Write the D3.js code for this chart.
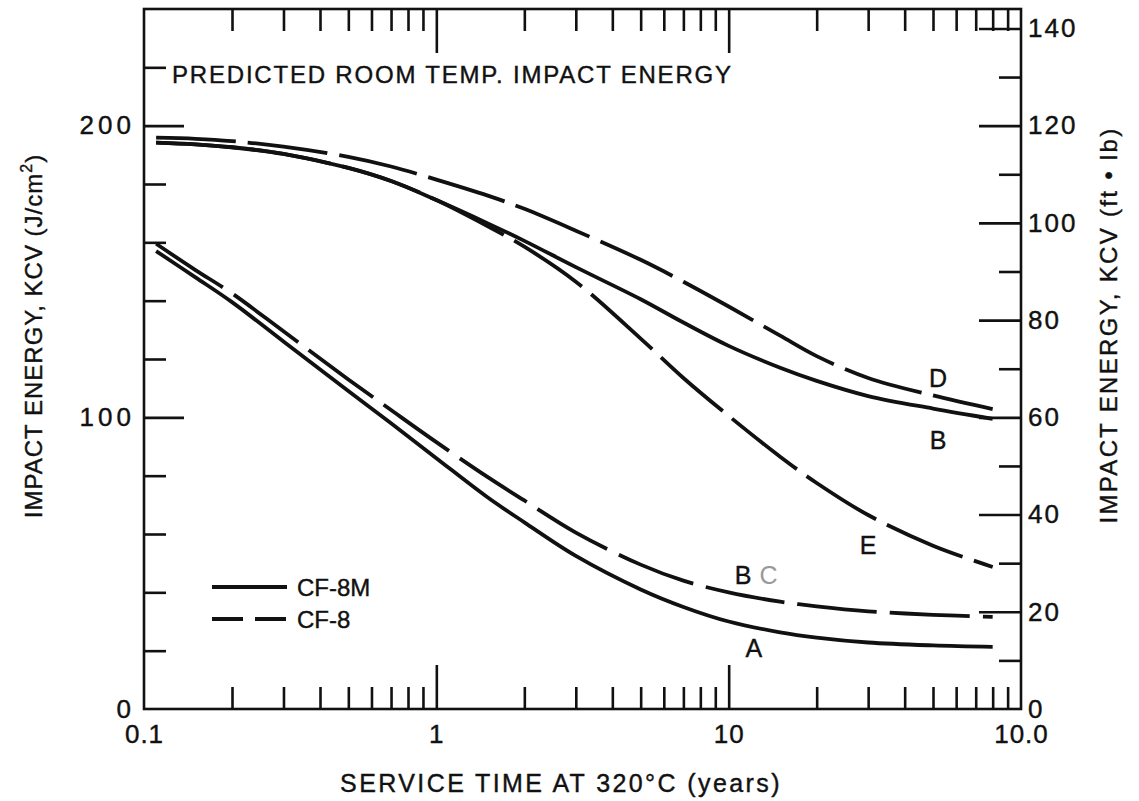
<!DOCTYPE html>
<html>
<head>
<meta charset="utf-8">
<script src="https://cdn.jsdelivr.net/npm/d3@7"></script>
<style>
body {
  margin: 0;
  background-color: white;
}
text {
  font-family: "Liberation Sans", Arial, sans-serif;
  fill: #111;
  stroke: #111;
  stroke-width: 0.4px;
}
</style>
</head>
<body>
<svg id="chart"></svg>
<script>
// service time (years) where the curves were read
var years = [0.11, 0.15, 0.2, 0.3, 0.5, 0.7, 1, 1.5, 2, 3, 5, 7, 10, 15, 20, 30, 50, 80];
// impact energy, J/cm2
var curveD = [195.9, 195.5, 194.7, 192.8, 189.3, 186, 181.5, 176, 171.5, 164, 154, 146.5, 138, 128, 121, 113.5, 107.5, 102.8];
var curveB = [194.2, 193.6, 192.6, 190.3, 185.5, 181, 174.5, 166.5, 160.5, 151.5, 140.5, 132.5, 124.5, 117, 112.5, 107.3, 103, 99.5];
var curveE = [194.2, 193.6, 192.6, 190.3, 185.5, 181, 174.5, 165.5, 158.5, 146.5, 127, 113.5, 100.5, 86.5, 77.5, 66.5, 56, 48.7];
var curveC = [159.5, 150.5, 142.5, 129.5, 113, 102.5, 91.5, 79.5, 71.5, 60.5, 49.5, 44, 40, 36.8, 35.2, 33.5, 32.3, 31.6];
var curveA = [157, 148, 139.5, 126, 109, 98, 86, 72.5, 64, 52.5, 41, 35, 30, 26.3, 24.5, 22.8, 21.8, 21.3];

var xMajor = [1, 10];
var xMinor = [0.2, 0.3, 0.4, 0.5, 0.6, 0.7, 0.8, 0.9, 2, 3, 4, 5, 6, 7, 8, 9, 20, 30, 40, 50, 60, 70, 80, 90];
var xLabels = [[0.1, "0.1"], [1, "1"], [10, "10"], [100, "10.0"]];
var jMajor = [100, 200];
var jMinor = [20, 40, 60, 80, 120, 140, 160, 180, 220];
var jLabels = [0, 100, 200];
var ftMajor = [20, 40, 60, 80, 100, 120, 140];
var ftMinor = [10, 30, 50, 70, 90, 110, 130];
var ftLabels = [0, 20, 40, 60, 80, 100, 120, 140];

// curve letters, placed in data units
var curveLetters = [["D", 52, 113.5], ["B", 52, 92.3], ["E", 30, 56.3], ["B", 11.2, 46], ["C", 13.7, 46], ["A", 12.2, 21]];

var series = [
  {v: curveD, dash: "80,12"},
  {v: curveB, dash: null},
  {v: curveE, dash: "82,12"},
  {v: curveC, dash: "80,13"},
  {v: curveA, dash: null}
];

const width = 1139;
const height = 801;
var svg = d3.select("#chart").attr("width", width).attr("height", height);

var pLeft = 144, pRight = 1021, pTop = 9, pBottom = 709;
var x = d3.scaleLog().domain([0.1, 100]).range([pLeft, pRight]);
var y = d3.scaleLinear().domain([0, 240]).range([pBottom, pTop]);
var yft = d3.scaleLinear().domain([0, 144]).range([pBottom, pTop]);

function ticksOnly(axis, vals, size) {
  return axis.tickValues(vals).tickSize(size).tickFormat("");
}
function clean(g) {
  g.select(".domain").remove();
  g.selectAll(".tick line").attr("stroke", "#111").attr("stroke-width", 2.6);
}

// inward ticks on all four sides
svg.append("g").attr("transform", "translate(0," + pBottom + ")").call(ticksOnly(d3.axisBottom(x), xMajor, -44)).call(clean);
svg.append("g").attr("transform", "translate(0," + pBottom + ")").call(ticksOnly(d3.axisBottom(x), xMinor, -22)).call(clean);
svg.append("g").attr("transform", "translate(0," + pTop + ")").call(ticksOnly(d3.axisTop(x), xMajor, -44)).call(clean);
svg.append("g").attr("transform", "translate(0," + pTop + ")").call(ticksOnly(d3.axisTop(x), xMinor, -22)).call(clean);
svg.append("g").attr("transform", "translate(" + pLeft + ",0)").call(ticksOnly(d3.axisLeft(y), jMajor, -40)).call(clean);
svg.append("g").attr("transform", "translate(" + pLeft + ",0)").call(ticksOnly(d3.axisLeft(y), jMinor, -22)).call(clean);
svg.append("g").attr("transform", "translate(" + pRight + ",0)").call(ticksOnly(d3.axisRight(yft), ftMajor, -42)).call(clean);
svg.append("g").attr("transform", "translate(" + pRight + ",0)").call(ticksOnly(d3.axisRight(yft), ftMinor, -22)).call(clean);

svg.append("rect")
   .attr("x", pLeft).attr("y", pTop)
   .attr("width", pRight - pLeft).attr("height", pBottom - pTop)
   .attr("fill", "none").attr("stroke", "#111").attr("stroke-width", 2.6);

// tick labels
var labelFont = 26;
svg.append("g").attr("transform", "translate(0," + pBottom + ")")
   .call(d3.axisBottom(x).tickValues(xLabels.map(d => d[0])).tickSize(0).tickPadding(16)
         .tickFormat((d, i) => xLabels[i][1]))
   .call(g => g.select(".domain").remove())
   .selectAll("text").attr("font-size", labelFont).attr("fill", "#111").style("letter-spacing", "1px");
svg.append("g").attr("transform", "translate(" + pLeft + ",0)")
   .call(d3.axisLeft(y).tickValues(jLabels).tickSize(0).tickPadding(9))
   .call(g => g.select(".domain").remove())
   .selectAll("text").attr("font-size", labelFont).attr("fill", "#111").style("letter-spacing", "4px");
svg.append("g").attr("transform", "translate(" + pRight + ",0)")
   .call(d3.axisRight(yft).tickValues(ftLabels).tickSize(0).tickPadding(7))
   .call(g => g.select(".domain").remove())
   .selectAll("text").attr("font-size", labelFont).attr("fill", "#111").style("letter-spacing", "2px");

// curves
var line = d3.line().curve(d3.curveCatmullRom)
             .x((d, i) => x(years[i]))
             .y(d => y(d));

svg.append("g").selectAll("path")
   .data(series)
   .enter()
   .append("path")
   .attr("d", d => line(d.v))
   .attr("fill", "none")
   .attr("stroke", "#111")
   .attr("stroke-width", 3.8)
   .attr("stroke-dasharray", d => d.dash);

svg.append("g").selectAll("text")
   .data(curveLetters)
   .enter()
   .append("text")
   .attr("x", d => x(d[1]))
   .attr("y", d => y(d[2]))
   .attr("dy", "0.36em")
   .attr("text-anchor", "middle")
   .attr("font-size", 25)
   .style("fill", (d, i) => i == 4 ? "#999" : "#111")
   .style("stroke", (d, i) => i == 4 ? "none" : "#111")
   .text(d => d[0]);

// title and legend
svg.append("text").attr("x", 172).attr("y", 83).attr("font-size", 24)
   .style("letter-spacing", "1.8px")
   .text("PREDICTED ROOM TEMP. IMPACT ENERGY");

var legend = [["CF-8M", null], ["CF-8", "31,12"]];
var lg = svg.append("g").selectAll("g").data(legend).enter().append("g")
   .attr("transform", (d, i) => "translate(212," + (587 + i * 32) + ")");
lg.append("line").attr("x1", 0).attr("x2", 75)
  .attr("stroke", "#111").attr("stroke-width", 3.8)
  .attr("stroke-dasharray", d => d[1]);
lg.append("text").attr("x", 85).attr("dy", "0.36em").attr("font-size", 24)
  .text(d => d[0]);

// axis titles
svg.append("text").attr("x", 561).attr("y", 792).attr("text-anchor", "middle")
   .attr("font-size", 25).style("letter-spacing", "2.4px")
   .text("SERVICE TIME AT 320°C (years)");

var lt = svg.append("text")
   .attr("transform", "translate(42,336) rotate(-90)")
   .attr("text-anchor", "middle").attr("font-size", 24).style("letter-spacing", "1px");
lt.append("tspan").text("IMPACT ENERGY, KCV (J/cm");
lt.append("tspan").attr("font-size", 16).attr("dy", -10).text("2");
lt.append("tspan").attr("dy", 10).text(")");

svg.append("text")
   .attr("transform", "translate(1117,325) rotate(-90)")
   .attr("text-anchor", "middle").attr("font-size", 24).style("letter-spacing", "2.3px")
   .text("IMPACT ENERGY, KCV (ft \u2022 lb)");
</script>
</body>
</html>
